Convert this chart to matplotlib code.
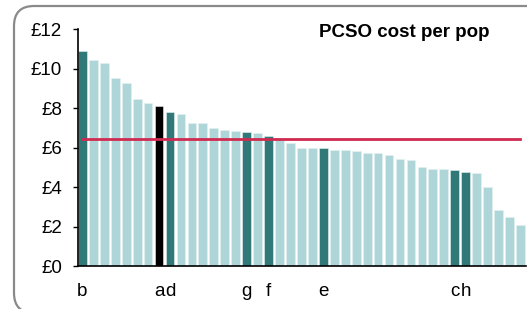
import matplotlib
matplotlib.use("Agg")
from matplotlib import pyplot as plt
from matplotlib.patches import FancyBboxPatch

plt.rcParams["font.family"] = ["Liberation Sans", "DejaVu Sans"]

# cost per head of population, forces sorted high to low
cost = [10.88, 10.41, 10.28, 9.50, 9.25, 8.47, 8.25, 8.10, 7.81, 7.70,
        7.26, 7.22, 6.99, 6.90, 6.84, 6.78, 6.75, 6.58, 6.48, 6.24,
        5.99, 5.98, 5.98, 5.89, 5.87, 5.84, 5.70, 5.70, 5.64, 5.43,
        5.35, 5.00, 4.89, 4.89, 4.86, 4.76, 4.71, 4.02, 2.85, 2.48, 2.08]
labels = ["b", "", "", "", "", "", "", "a", "d", "",
          "", "", "", "", "", "g", "", "f", "", "",
          "", "", "e", "", "", "", "", "", "", "",
          "", "", "", "", "c", "h", "", "", "", "", ""]
average = 6.41
yticks = [0, 2, 4, 6, 8, 10, 12]

dark = "#317878"
light = "#aed5d8"
colors = []
for lab in labels:
    if lab == "a":
        colors.append("black")
    elif lab:
        colors.append(dark)
    else:
        colors.append(light)

fig = plt.figure(figsize=(5.27, 3.09), dpi=100)
ax = fig.add_axes([0.148, 0.139, 0.850, 0.767])

x = list(range(len(cost)))
ax.bar(x, cost, width=0.8, color=colors, edgecolor="#e6f2f3", linewidth=0.4)
ax.plot(x, [average] * len(x), color="#d02a50", linewidth=2)

ax.set_xlim(-0.4, len(cost) - 0.5)
ax.set_ylim(0, 12)
ax.set_yticks(yticks)
ax.set_yticklabels(["£%d" % v for v in yticks])
ax.set_xticks(x)
ax.set_xticklabels(labels)
ax.tick_params(axis="y", length=3.6, width=1, pad=8, labelsize=13.5)
ax.tick_params(axis="x", length=0, pad=12, labelsize=13.5)
for s in ["top", "right"]:
    ax.spines[s].set_visible(False)
ax.spines["left"].set_linewidth(1.2)
ax.spines["bottom"].set_linewidth(1.2)

fig.text(0.768, 0.880, "PCSO cost per pop", ha="center", va="baseline",
         fontsize=13.5, fontweight="bold")

# rounded frame, in inches, running off the right and bottom edges
box = FancyBboxPatch((0.14, -0.04), 5.4, 3.07, transform=fig.dpi_scale_trans,
                     boxstyle="round,pad=0,rounding_size=0.2",
                     facecolor="none", edgecolor="#8a8a8a", linewidth=1.6,
                     clip_on=False)
fig.patches.append(box)

fig.savefig("out.png", dpi=100)
